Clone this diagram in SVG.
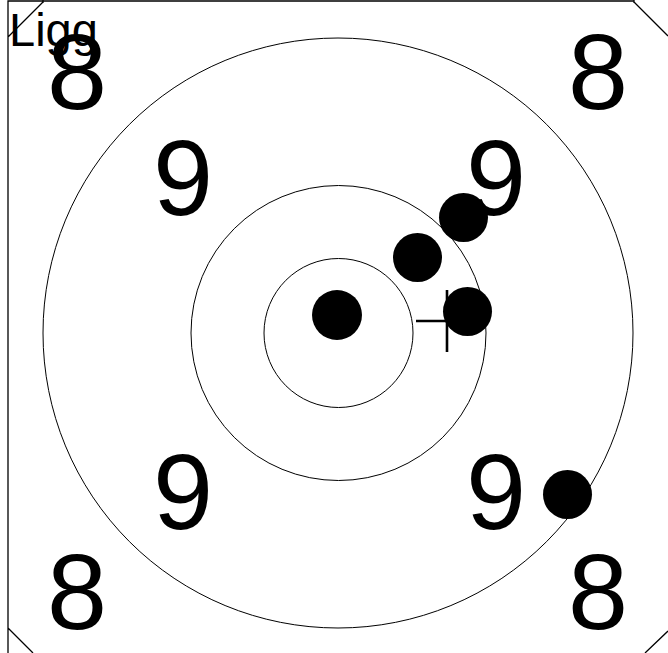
<svg xmlns="http://www.w3.org/2000/svg" width="668" height="653" viewBox="0 0 668 653">
<style>
.frame{fill:none;stroke:#000;stroke-width:1.3}
.ring{fill:none;stroke:#000;stroke-width:1}
.num{font-family:"Liberation Sans",Arial,sans-serif;font-size:108px;fill:#000;text-anchor:middle}
.shot{fill:#000}
.cross{stroke:#000;stroke-width:2.6;fill:none}
</style>
<rect width="668" height="653" fill="#fff"/>
<g id="frame">
<path class="frame" d="M8 653 V1 H634 M43 0 V3 M634 0 V3 M43 2 L8 37 M634 2 L668 36 M8 628 L33 653 M668 631 L645 653"/>
</g>
<g id="rings">
<circle class="ring" cx="338" cy="333" r="295"/>
<circle class="ring" cx="338.5" cy="333" r="147.5"/>
<circle class="ring" cx="338.5" cy="333" r="74.5"/>
</g>
<g id="numbers">
<text class="num" x="77" y="109">8</text>
<text class="num" x="598" y="109">8</text>
<text class="num" x="77" y="629">8</text>
<text class="num" x="598" y="629">8</text>
<text class="num" x="183" y="215">9</text>
<text class="num" x="496" y="215">9</text>
<text class="num" x="183" y="529">9</text>
<text class="num" x="496" y="529">9</text>
</g>
<g id="label">
<text x="9" y="46" font-family="'Liberation Sans',Arial,sans-serif" font-size="47">Ligg</text>
</g>
<g id="cross">
<path class="cross" d="M416 321 H478 M447 290 V352"/>
</g>
<g id="shots">
<circle class="shot" cx="337" cy="315" r="25"/>
<circle class="shot" cx="417.5" cy="257.5" r="24.5"/>
<circle class="shot" cx="463.5" cy="217.5" r="24.5"/>
<circle class="shot" cx="467.5" cy="311.5" r="24.5"/>
<circle class="shot" cx="567.5" cy="494.5" r="24.5"/>
</g>
</svg>
